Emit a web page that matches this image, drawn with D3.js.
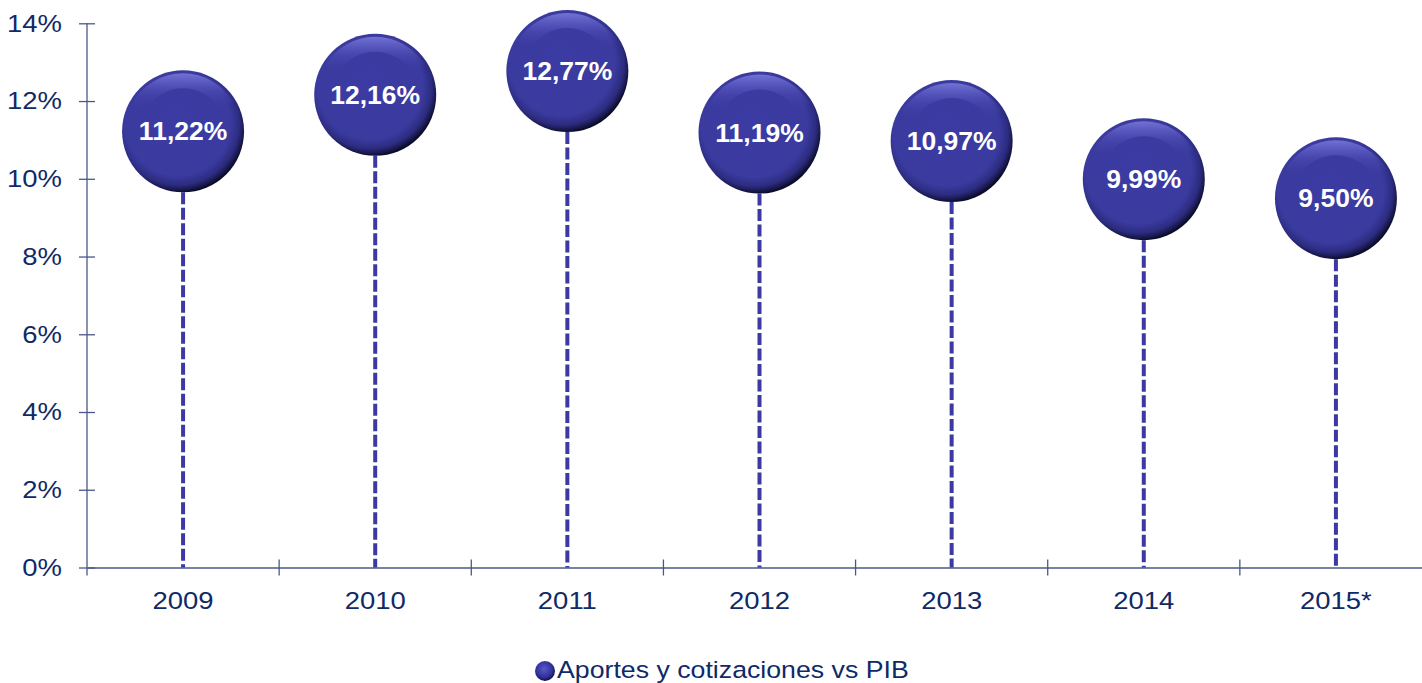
<!DOCTYPE html>
<html><head><meta charset="utf-8">
<script src="https://cdn.jsdelivr.net/npm/d3@7"></script>
<style>body{margin:0;background:#fff}svg{display:block}text{font-family:'Liberation Sans',Arial,sans-serif}</style>
</head><body><svg id="c" width="1422" height="683"></svg>
<script>
const categories = ["2009","2010","2011","2012","2013","2014","2015*"];
const values = [11.22, 12.16, 12.77, 11.19, 10.97, 9.99, 9.50];
const valueLabels = ["11,22%","12,16%","12,77%","11,19%","10,97%","9,99%","9,50%"];
const yTicks = [0,2,4,6,8,10,12,14];
const seriesName = "Aportes y cotizaciones vs PIB";

const svg = d3.select("#c");
const mLeft = 87, mRight = 1432, mTop = 23.3, mBottom = 567.5;
const x = d3.scaleBand().domain(categories).range([mLeft, mRight]).padding(0);
const y = d3.scaleLinear().domain([0,14]).range([mBottom, mTop]);
const axisCol = "#4a5888", textCol = "#0f2a66", mark = "#3c3aa2";
const FF = "'Liberation Sans', Arial, sans-serif";

function stretch(sel, k){
  sel.each(function(){ const w=this.getComputedTextLength(); d3.select(this).attr("textLength",w*k).attr("lengthAdjust","spacingAndGlyphs"); });
}

const defs = svg.append("defs");
const g1 = defs.append("radialGradient").attr("id","ball").attr("cx","46%").attr("cy","44%").attr("r","56%").attr("fx","44%").attr("fy","40%");
[[0,"#3b3ba3"],[0.78,"#3a3a9f"],[0.9,"#2c2c80"],[0.97,"#17174a"],[1,"#0c0c2a"]].forEach(([o,c])=>g1.append("stop").attr("offset",o).attr("stop-color",c));
const g2 = defs.append("linearGradient").attr("id","hl").attr("x1","0").attr("y1","0").attr("x2","0").attr("y2","1");
g2.append("stop").attr("offset",0).attr("stop-color","#8f8ff0").attr("stop-opacity",0.95);
g2.append("stop").attr("offset",0.5).attr("stop-color","#6a6ad8").attr("stop-opacity",0.35);
g2.append("stop").attr("offset",1).attr("stop-color","#3b3ba3").attr("stop-opacity",0);
const g3 = defs.append("radialGradient").attr("id","lg").attr("cx","45%").attr("cy","40%").attr("r","60%");
g3.append("stop").attr("offset",0).attr("stop-color","#5a5ac8");
g3.append("stop").attr("offset",0.7).attr("stop-color","#30309a");
g3.append("stop").attr("offset",1).attr("stop-color","#10103a");

// y axis
const ya = svg.append("g").attr("transform",`translate(${mLeft},0)`)
  .call(d3.axisLeft(y).tickValues(yTicks).tickFormat(d=>d+"%").tickSize(8).tickSizeOuter(0).tickPadding(17));
ya.attr("font-family",FF).attr("font-size",24.5);
ya.select(".domain").attr("stroke",axisCol).attr("stroke-width",1.3).attr("d",`M0,${mTop}V${mBottom+8}`);
ya.selectAll(".tick line").attr("stroke",axisCol).attr("stroke-width",1.3).attr("x1",8).attr("x2",-8);
ya.selectAll(".tick text").attr("fill",textCol).call(stretch,1.12);

// x axis
const xa = svg.append("g").attr("transform",`translate(0,${mBottom})`)
  .call(d3.axisBottom(x).tickSize(0).tickPadding(24).tickSizeOuter(0));
xa.attr("font-family",FF).attr("font-size",24.5);
xa.select(".domain").attr("stroke",axisCol).attr("stroke-width",1.3);
xa.selectAll(".tick text").attr("fill",textCol).call(stretch,1.12);
svg.append("g").selectAll("line").data(categories.slice(1)).join("line")
  .attr("x1",d=>x(d)).attr("x2",d=>x(d)).attr("y1",mBottom-8).attr("y2",mBottom+8)
  .attr("stroke",axisCol).attr("stroke-width",1.3);

// stems
const r = 61;
const data = categories.map((c,i)=>({c, v:values[i], l:valueLabels[i]}));
svg.append("g").selectAll("line").data(data).join("line")
  .attr("x1",d=>x(d.c)+x.bandwidth()/2).attr("x2",d=>x(d.c)+x.bandwidth()/2)
  .attr("y1",d=>y(d.v)+r).attr("y2",mBottom)
  .attr("stroke",mark).attr("stroke-width",4).attr("stroke-dasharray","12,3.5");

// bubbles
const b = svg.append("g").selectAll("g").data(data).join("g")
  .attr("transform",d=>`translate(${x(d.c)+x.bandwidth()/2},${y(d.v)})`);
b.append("circle").attr("r",r).attr("fill","url(#ball)");
b.append("path").attr("d",d3.arc()({innerRadius:r-18,outerRadius:r-3,startAngle:-1.05,endAngle:1.05}))
  .attr("fill","url(#hl)").attr("opacity",0.7);
b.append("text").text(d=>d.l).attr("text-anchor","middle").attr("dy","0.36em")
  .attr("fill","#fff").attr("font-family",FF).attr("font-weight","bold").attr("font-size",25)
  .call(stretch,1.06);

// legend
svg.append("circle").attr("cx",545).attr("cy",671).attr("r",10).attr("fill","url(#lg)");
svg.append("text").attr("x",557).attr("y",678).text(seriesName).attr("fill",textCol)
  .attr("font-family",FF).attr("font-size",24.5).call(stretch,1.09);
</script></body></html>
